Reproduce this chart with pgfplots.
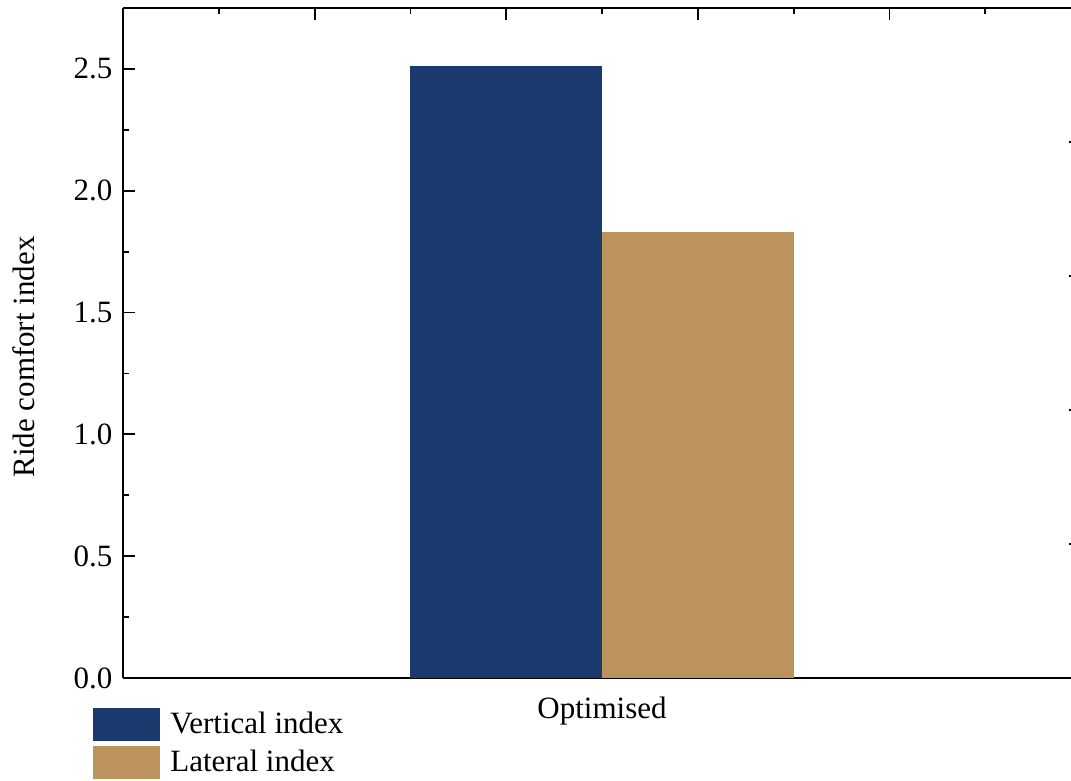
\documentclass[border=0pt]{standalone}
\usepackage{fontspec}
\setmainfont{Liberation Serif}
\usepackage{pgfplots}
\pgfplotsset{compat=1.18}
\definecolor{vblue}{RGB}{26,57,108}
\definecolor{lbrown}{RGB}{188,148,91}

\begin{document}
\fontsize{15.5}{18}\selectfont
\begin{tikzpicture}
% main axis: bars, left and bottom scales
\begin{axis}[
  scale only axis, width=479pt, height=335pt,
  at={(0,0)}, anchor=south west,
  xmin=0, xmax=2, ymin=0, ymax=2.75,
  axis x line*=bottom, axis y line*=left,
  axis line style={line width=1pt, black},
  xtick={1}, xticklabels={Optimised},
  ytick={0,0.5,1,1.5,2,2.5}, minor y tick num=1,
  /pgf/number format/assume math mode=true,
  yticklabel style={/pgf/number format/.cd, fixed, fixed zerofill, precision=1},
  xticklabel style={yshift=-4pt},
  tick label style={font=\fontsize{15.5}{18}\selectfont},
  label style={font=\fontsize{15.5}{18}\selectfont},
  tick align=inside, major tick length=6pt, minor tick length=3pt,
  tick style={line width=0.9pt, black},
  ylabel={Ride comfort index},
  ylabel style={xshift=-7pt, yshift=9pt},
  legend style={at={(0,0)}, anchor=north west, xshift=-15pt, yshift=-15pt,
    draw=none, fill=none, inner sep=0pt, row sep=2.5pt,
    font=\fontsize{15.5}{18}\selectfont,
    nodes={inner ysep=1pt, inner xsep=5pt}},
  legend cell align=left,
  legend image code/.code={\fill[#1] (0pt,-8.25pt) rectangle (33.5pt,8.25pt);},
]
\addplot[ybar, bar width=0.4, bar shift=0pt, fill=vblue, draw=none] coordinates {(0.8,2.51)};
\addlegendentry{Vertical index}
\addplot[ybar, bar width=0.4, bar shift=0pt, fill=lbrown, draw=none] coordinates {(1.2,1.83)};
\addlegendentry{Lateral index}
\end{axis}
% secondary scales on top and right, ticks only
\begin{axis}[
  scale only axis, width=479pt, height=335pt,
  at={(0,0)}, anchor=south west,
  xmin=0, xmax=2, ymin=0, ymax=1,
  axis x line*=top, axis y line*=right,
  axis line style={line width=1pt, black},
  xtick={0,0.4,0.8,1.2,1.6,2}, minor x tick num=1,
  ytick={0,0.2,0.4,0.6,0.8,1}, minor y tick num=1,
  xticklabels={}, yticklabels={},
  tick align=inside, major tick length=6pt, minor tick length=3pt,
  tick style={line width=0.9pt, black},
]
\end{axis}
\pgfresetboundingbox
\useasboundingbox (-61.5pt,-51.5pt) rectangle (474pt,339pt);
\end{tikzpicture}
\end{document}
